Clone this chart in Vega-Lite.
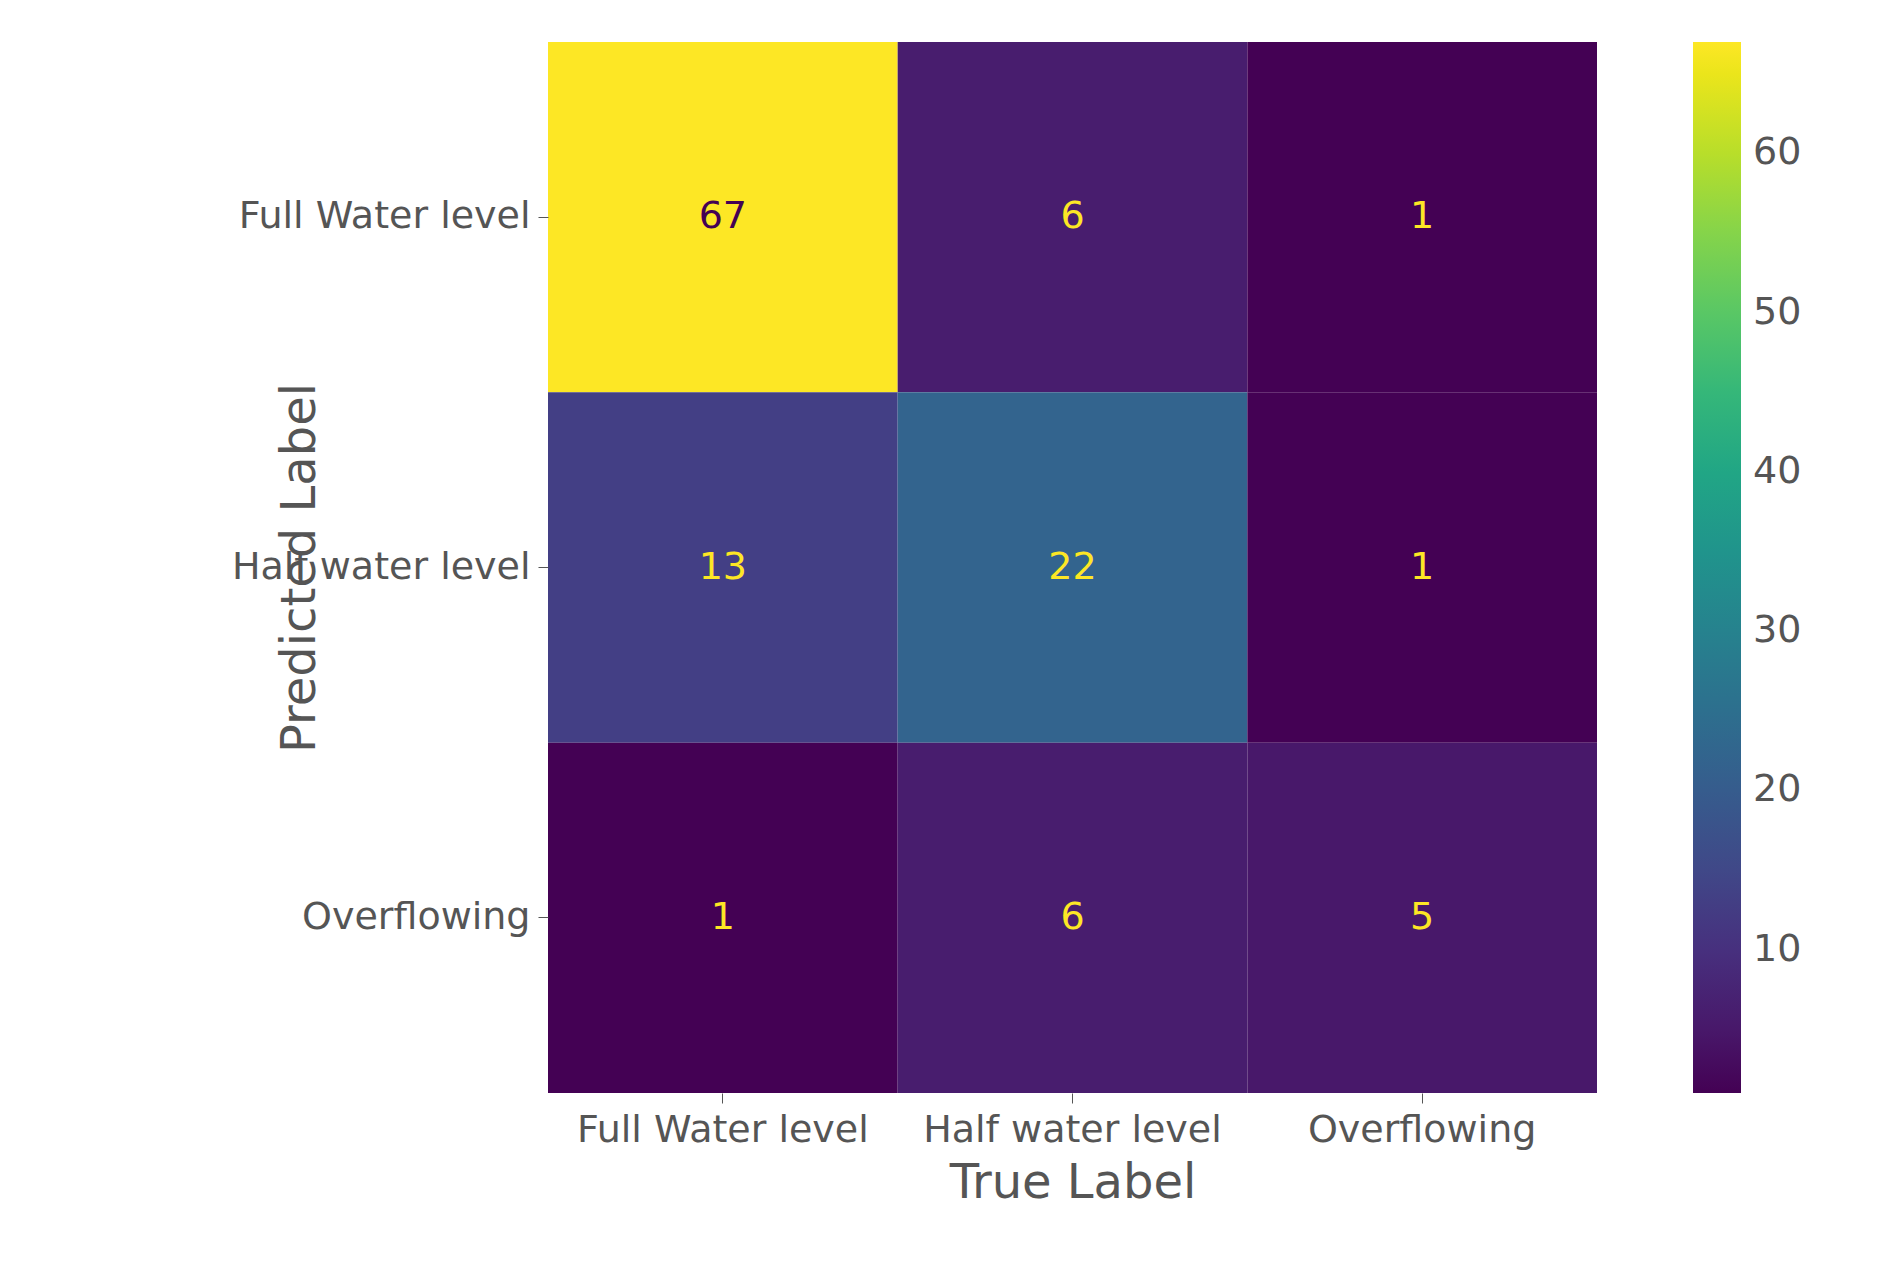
{
  "$schema": "https://vega.github.io/schema/vega-lite/v6.json",
  "autosize": {"type": "none"},
  "padding": {"left": 548, "top": 42, "right": 283, "bottom": 171},
  "width": 1049,
  "height": 1051,
  "config": {
    "font": "DejaVu Sans",
    "view": {"stroke": null},
    "axis": {"labelColor": "#555555", "titleColor": "#555555", "tickColor": "#555555", "domain": false, "labelFontSize": 38, "titleFontSize": 48, "titleFontWeight": "normal", "tickSize": 10, "labelPadding": 8, "labelLimit": 0}
  },
  "data": {"values": [
    {"t": "Full  Water level", "p": "Full  Water level", "n": 67},
    {"t": "Half water level", "p": "Full  Water level", "n": 6},
    {"t": "Overflowing", "p": "Full  Water level", "n": 1},
    {"t": "Full  Water level", "p": "Half water level", "n": 13},
    {"t": "Half water level", "p": "Half water level", "n": 22},
    {"t": "Overflowing", "p": "Half water level", "n": 1},
    {"t": "Full  Water level", "p": "Overflowing", "n": 1},
    {"t": "Half water level", "p": "Overflowing", "n": 6},
    {"t": "Overflowing", "p": "Overflowing", "n": 5}
  ]},
  "encoding": {
    "x": {"field": "t", "type": "nominal", "sort": null, "title": "True Label", "axis": {"labelAngle": 0, "titlePadding": 10}},
    "y": {"field": "p", "type": "nominal", "sort": null, "title": "Predicted Label", "axis": {"titlePadding": 24}}
  },
  "layer": [
    {
      "mark": {"type": "rect", "strokeWidth": 0},
      "encoding": {
        "color": {"field": "n", "type": "quantitative", "scale": {"scheme": "viridis", "domain": [1, 67]}, "legend": {"title": null, "orient": "right", "offset": 96, "gradientLength": 1051, "gradientThickness": 48, "values": [10, 20, 30, 40, 50, 60], "labelFontSize": 38, "labelColor": "#555555", "labelOffset": 12, "labelLimit": 0, "gradientStrokeWidth": 0}}
      }
    },
    {
      "mark": {"type": "text", "fontSize": 38},
      "encoding": {
        "text": {"field": "n", "type": "quantitative"},
        "color": {"condition": {"test": "datum.n > 40", "value": "#440154"}, "value": "#fde725"}
      }
    }
  ]
}
